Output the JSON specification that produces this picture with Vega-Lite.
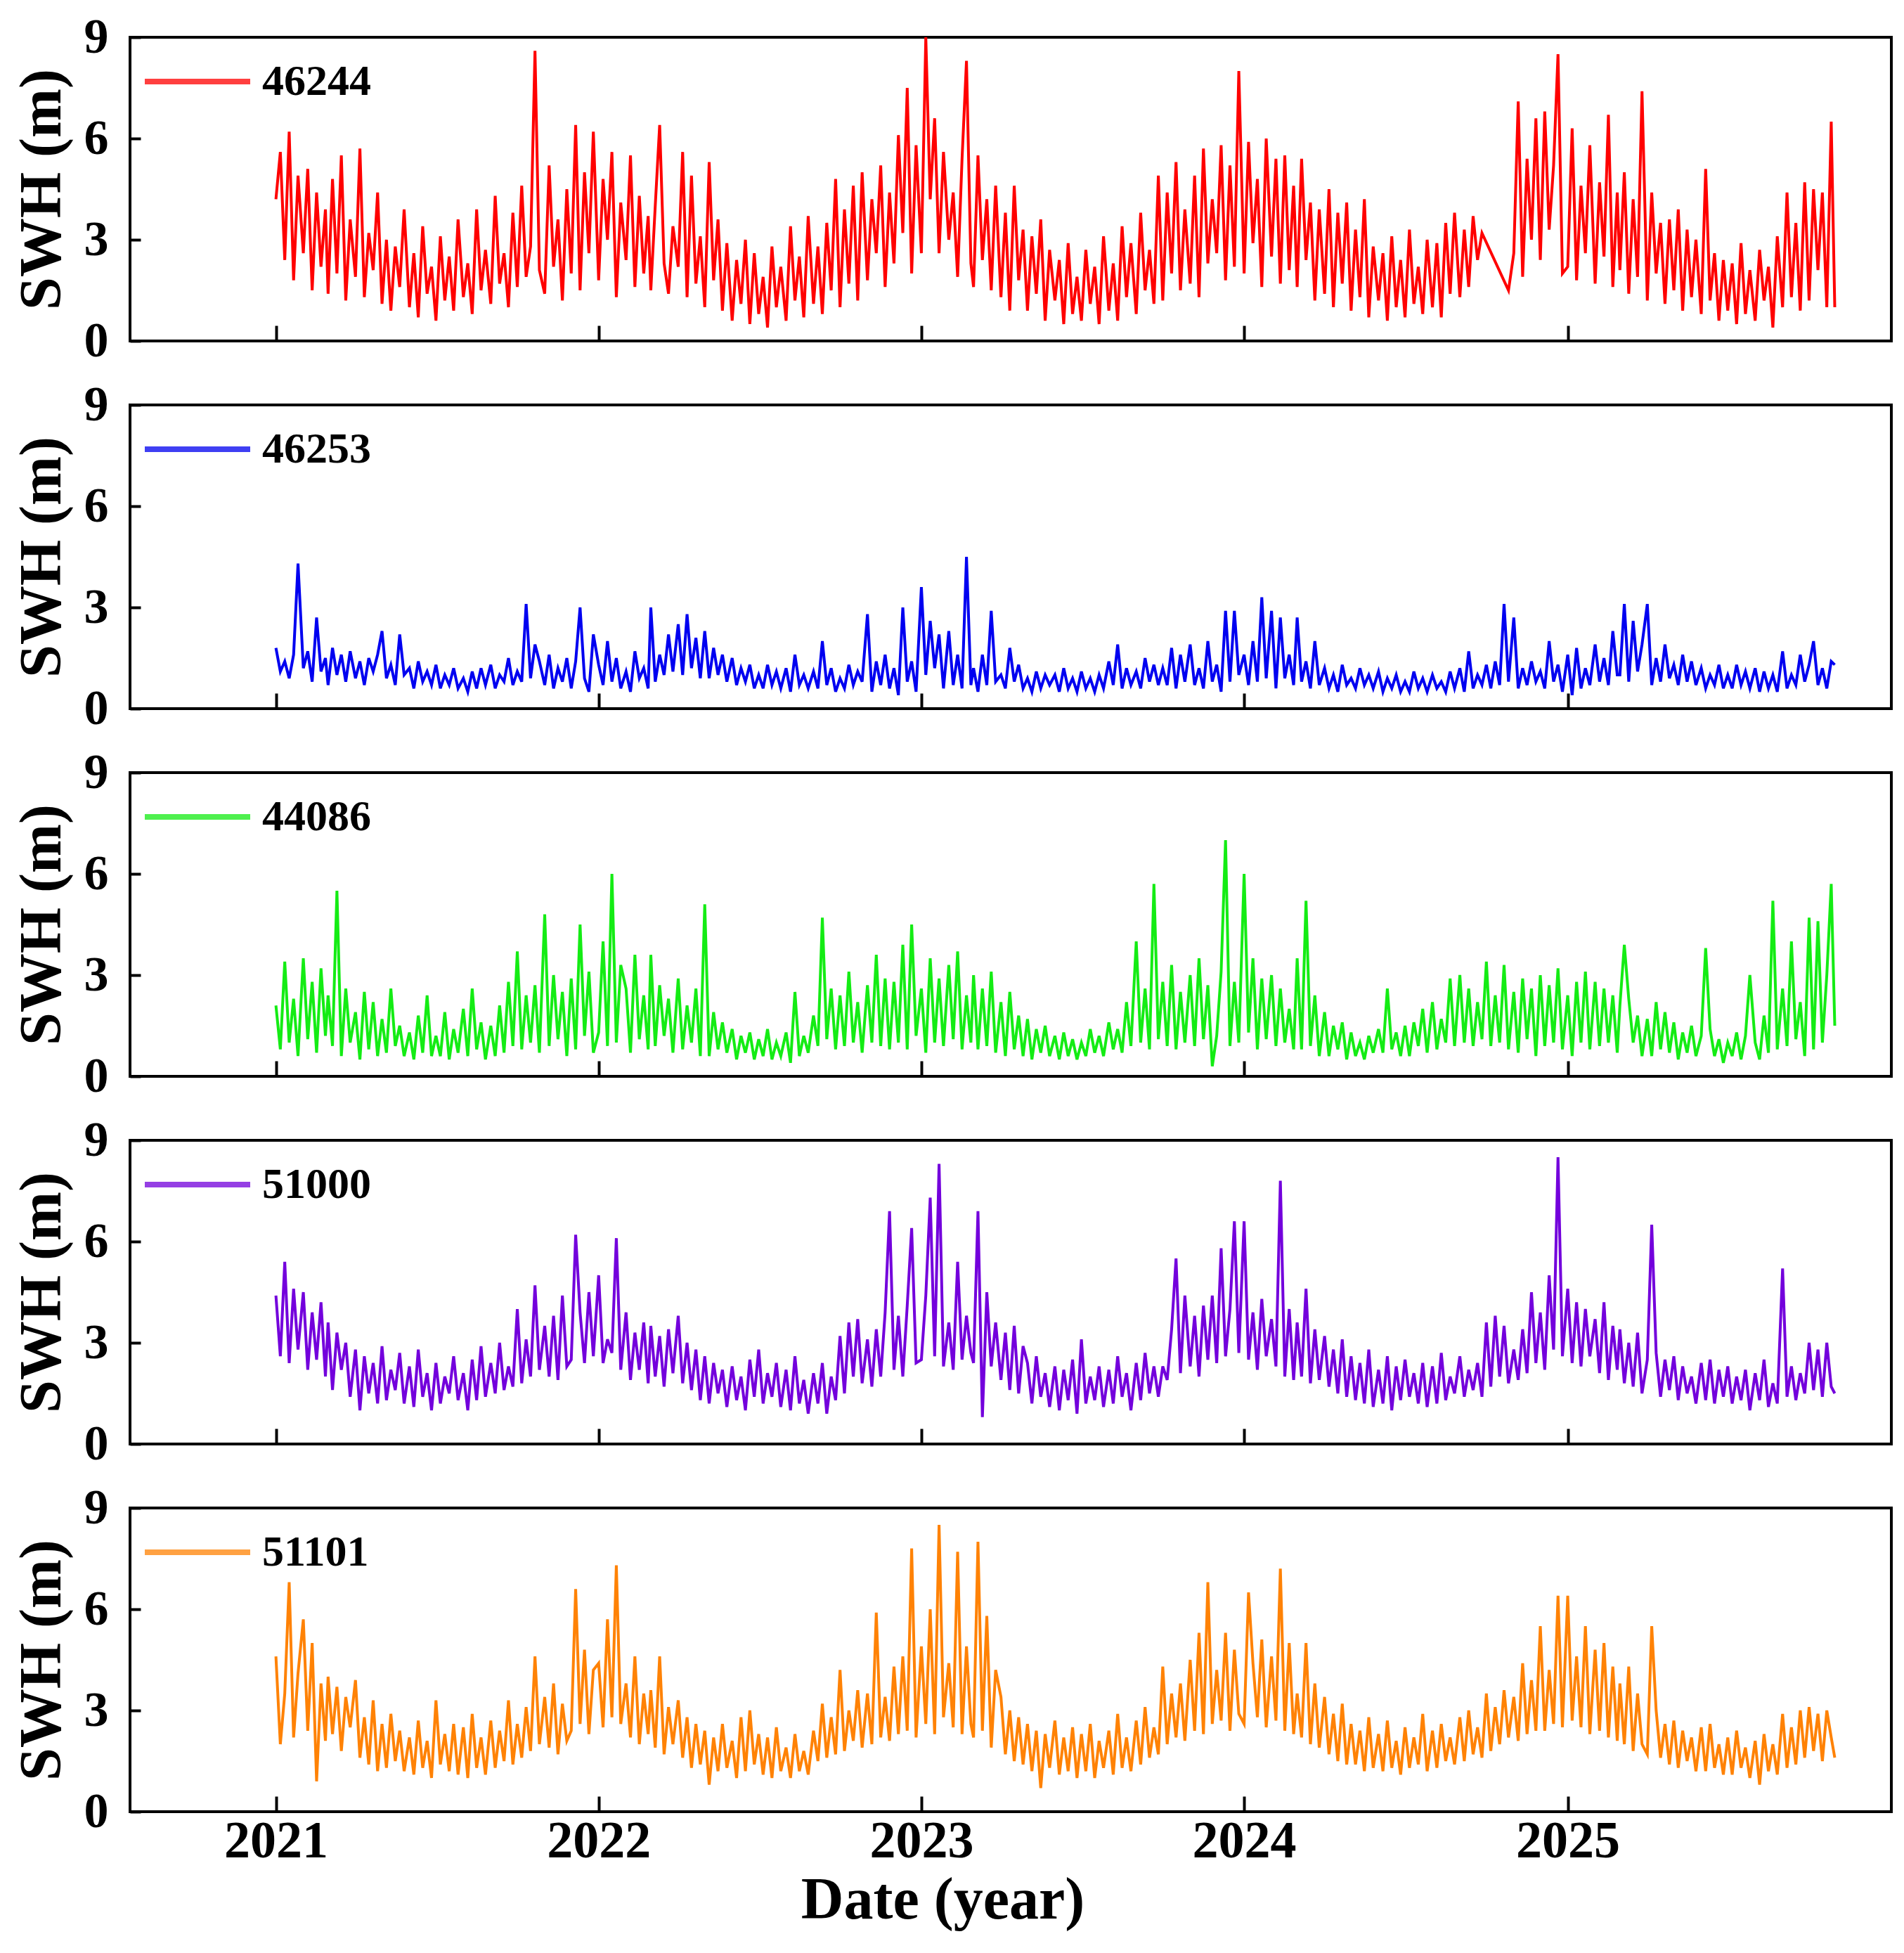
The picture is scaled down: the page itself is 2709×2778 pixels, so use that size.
{
"$schema":"https://vega.github.io/schema/vega-lite/v6.json",
"background":"white",
"padding":{"left":16,"top":16,"right":20,"bottom":4},
"config":{
 "font":"Liberation Serif",
 "view":{"stroke":"black","strokeWidth":4},
 "axis":{"grid":false,"domain":false,"tickColor":"black","tickWidth":4,"labelFont":"Liberation Serif","labelFontWeight":"bold","labelColor":"black","titleFont":"Liberation Serif","titleFontWeight":"bold","titleColor":"black","labelFlush":false},
 "axisX":{"tickSize":-22,"labelPadding":28,"labelFontSize":74,"titleFontSize":84,"titlePadding":6,"format":"%Y"},
 "axisY":{"tickSize":-15,"labelPadding":46,"labelFontSize":70,"titleFontSize":84,"titlePadding":16},
 "legend":{"symbolType":"M-1,-0.04H1M-1,-0.013H1M-1,0.013H1M-1,0.04H1","symbolSize":22500,"labelFont":"Liberation Serif","labelFontWeight":"bold","labelFontSize":62,"labelColor":"black","labelOffset":16,"padding":0}
},
"spacing":91,
"bounds":"flush",
"resolve":{"scale":{"color":"independent"}},
"data":{"values":[
{"t":"2021-01-01","a":4.2,"b":1.8,"c":2.1,"d":4.4,"e":4.6},
{"t":"2021-01-06","a":5.6,"b":1.1,"c":0.8,"d":2.6,"e":2.0},
{"t":"2021-01-11","a":2.4,"b":1.4,"c":3.4,"d":5.4,"e":3.5},
{"t":"2021-01-16","a":6.2,"b":0.9,"c":1.0,"d":2.4,"e":6.8},
{"t":"2021-01-21","a":1.8,"b":1.6,"c":2.3,"d":4.6,"e":2.2},
{"t":"2021-01-26","a":4.9,"b":4.3,"c":0.6,"d":2.8,"e":4.1},
{"t":"2021-02-01","a":2.6,"b":1.2,"c":3.5,"d":4.5,"e":5.7},
{"t":"2021-02-06","a":5.1,"b":1.7,"c":1.1,"d":2.2,"e":2.4},
{"t":"2021-02-11","a":1.5,"b":0.8,"c":2.8,"d":3.9,"e":5.0},
{"t":"2021-02-16","a":4.4,"b":2.7,"c":0.7,"d":2.5,"e":0.9},
{"t":"2021-02-21","a":2.2,"b":1.1,"c":3.2,"d":4.2,"e":3.8},
{"t":"2021-02-26","a":3.9,"b":1.5,"c":1.2,"d":2.0,"e":2.1},
{"t":"2021-03-01","a":1.4,"b":0.7,"c":2.4,"d":3.6,"e":4.0},
{"t":"2021-03-06","a":4.8,"b":1.8,"c":0.9,"d":1.6,"e":2.3},
{"t":"2021-03-11","a":2.0,"b":1.0,"c":5.5,"d":3.3,"e":3.7},
{"t":"2021-03-16","a":5.5,"b":1.6,"c":0.6,"d":2.2,"e":1.8},
{"t":"2021-03-21","a":1.2,"b":0.8,"c":2.6,"d":3.0,"e":3.4},
{"t":"2021-03-26","a":3.6,"b":1.7,"c":1.0,"d":1.4,"e":2.5},
{"t":"2021-04-01","a":1.9,"b":0.9,"c":1.9,"d":2.8,"e":3.9},
{"t":"2021-04-06","a":5.7,"b":1.4,"c":0.5,"d":1.0,"e":1.6},
{"t":"2021-04-11","a":1.3,"b":0.7,"c":2.5,"d":2.6,"e":2.8},
{"t":"2021-04-16","a":3.2,"b":1.5,"c":0.8,"d":1.5,"e":1.4},
{"t":"2021-04-21","a":2.1,"b":1.1,"c":2.2,"d":2.4,"e":3.3},
{"t":"2021-04-26","a":4.4,"b":1.6,"c":0.6,"d":1.2,"e":1.2},
{"t":"2021-05-01","a":1.1,"b":2.3,"c":1.7,"d":2.9,"e":2.6},
{"t":"2021-05-06","a":3.0,"b":0.9,"c":0.7,"d":1.3,"e":1.3},
{"t":"2021-05-11","a":0.9,"b":1.3,"c":2.6,"d":2.2,"e":2.9},
{"t":"2021-05-16","a":2.8,"b":0.7,"c":0.9,"d":1.6,"e":1.5},
{"t":"2021-05-21","a":1.6,"b":2.2,"c":1.5,"d":2.7,"e":2.4},
{"t":"2021-05-26","a":3.9,"b":1.0,"c":0.6,"d":1.2,"e":1.2},
{"t":"2021-06-01","a":1.0,"b":1.2,"c":1.3,"d":2.3,"e":2.2},
{"t":"2021-06-06","a":2.6,"b":0.6,"c":0.5,"d":1.1,"e":1.1},
{"t":"2021-06-11","a":0.7,"b":1.4,"c":1.8,"d":2.8,"e":2.7},
{"t":"2021-06-16","a":3.4,"b":0.8,"c":0.7,"d":1.4,"e":1.3},
{"t":"2021-06-21","a":1.4,"b":1.1,"c":2.4,"d":2.1,"e":2.1},
{"t":"2021-06-26","a":2.2,"b":0.7,"c":0.6,"d":1.0,"e":1.0},
{"t":"2021-07-01","a":0.6,"b":1.3,"c":1.2,"d":2.4,"e":3.3},
{"t":"2021-07-06","a":3.1,"b":0.6,"c":0.6,"d":1.2,"e":1.4},
{"t":"2021-07-11","a":1.2,"b":1.0,"c":1.9,"d":2.0,"e":2.3},
{"t":"2021-07-16","a":2.5,"b":0.7,"c":0.5,"d":1.5,"e":1.2},
{"t":"2021-07-21","a":0.9,"b":1.2,"c":1.4,"d":2.6,"e":2.6},
{"t":"2021-07-26","a":3.6,"b":0.6,"c":0.7,"d":1.3,"e":1.1},
{"t":"2021-08-01","a":1.3,"b":0.9,"c":2.0,"d":2.1,"e":2.5},
{"t":"2021-08-06","a":2.3,"b":0.5,"c":0.6,"d":1.0,"e":1.0},
{"t":"2021-08-11","a":0.8,"b":1.1,"c":2.6,"d":2.5,"e":2.9},
{"t":"2021-08-16","a":3.9,"b":0.6,"c":0.8,"d":1.3,"e":1.3},
{"t":"2021-08-21","a":1.5,"b":1.2,"c":1.6,"d":2.9,"e":2.2},
{"t":"2021-08-26","a":2.7,"b":0.7,"c":0.5,"d":1.4,"e":1.1},
{"t":"2021-09-01","a":1.1,"b":1.3,"c":1.5,"d":2.4,"e":2.7},
{"t":"2021-09-06","a":4.3,"b":0.6,"c":0.6,"d":1.5,"e":1.3},
{"t":"2021-09-11","a":1.7,"b":1.0,"c":2.1,"d":3.0,"e":2.4},
{"t":"2021-09-16","a":2.6,"b":0.8,"c":0.7,"d":1.6,"e":1.5},
{"t":"2021-09-21","a":1.0,"b":1.5,"c":2.8,"d":2.3,"e":3.3},
{"t":"2021-09-26","a":3.8,"b":0.7,"c":0.9,"d":1.7,"e":1.4},
{"t":"2021-10-01","a":1.6,"b":1.1,"c":3.7,"d":4.0,"e":2.6},
{"t":"2021-10-06","a":4.6,"b":0.8,"c":0.8,"d":1.8,"e":1.6},
{"t":"2021-10-11","a":1.9,"b":3.1,"c":2.4,"d":3.1,"e":3.1},
{"t":"2021-10-16","a":2.8,"b":0.9,"c":1.0,"d":2.0,"e":1.8},
{"t":"2021-10-21","a":8.6,"b":1.9,"c":2.7,"d":4.7,"e":4.6},
{"t":"2021-10-26","a":2.1,"b":1.4,"c":0.7,"d":2.2,"e":2.0},
{"t":"2021-11-01","a":1.4,"b":0.7,"c":4.8,"d":3.5,"e":3.4},
{"t":"2021-11-06","a":5.2,"b":1.6,"c":0.9,"d":2.0,"e":1.9},
{"t":"2021-11-11","a":2.2,"b":0.6,"c":3.0,"d":3.8,"e":3.8},
{"t":"2021-11-16","a":3.6,"b":1.2,"c":1.1,"d":1.9,"e":1.7},
{"t":"2021-11-21","a":1.2,"b":0.8,"c":2.5,"d":4.4,"e":3.2},
{"t":"2021-11-26","a":4.5,"b":1.5,"c":0.6,"d":2.3,"e":2.1},
{"t":"2021-12-01","a":2.0,"b":0.6,"c":2.9,"d":2.5,"e":2.4},
{"t":"2021-12-06","a":6.4,"b":1.4,"c":0.8,"d":6.2,"e":6.6},
{"t":"2021-12-11","a":1.5,"b":3.0,"c":4.5,"d":3.9,"e":2.6},
{"t":"2021-12-16","a":5.0,"b":0.9,"c":1.2,"d":2.4,"e":4.8},
{"t":"2021-12-21","a":2.6,"b":0.5,"c":3.1,"d":4.5,"e":2.3},
{"t":"2021-12-26","a":6.2,"b":2.2,"c":0.7,"d":2.6,"e":4.2},
{"t":"2022-01-01","a":1.8,"b":1.3,"c":1.3,"d":5.0,"e":4.4},
{"t":"2022-01-06","a":4.8,"b":0.7,"c":4.0,"d":2.4,"e":2.5},
{"t":"2022-01-11","a":3.0,"b":2.0,"c":0.9,"d":3.1,"e":5.7},
{"t":"2022-01-16","a":5.6,"b":0.8,"c":6.0,"d":2.7,"e":2.8},
{"t":"2022-01-21","a":1.3,"b":1.5,"c":1.0,"d":6.1,"e":7.3},
{"t":"2022-01-26","a":4.1,"b":0.6,"c":3.3,"d":2.2,"e":2.6},
{"t":"2022-02-01","a":2.4,"b":1.1,"c":2.6,"d":3.9,"e":3.8},
{"t":"2022-02-06","a":5.5,"b":0.5,"c":0.7,"d":1.9,"e":2.2},
{"t":"2022-02-11","a":1.6,"b":1.7,"c":3.6,"d":3.3,"e":4.6},
{"t":"2022-02-16","a":4.3,"b":0.9,"c":1.1,"d":2.2,"e":2.0},
{"t":"2022-02-21","a":2.0,"b":1.2,"c":2.4,"d":3.6,"e":3.5},
{"t":"2022-02-26","a":3.7,"b":0.6,"c":0.8,"d":1.8,"e":2.3},
{"t":"2022-03-01","a":1.5,"b":3.0,"c":3.6,"d":3.5,"e":3.6},
{"t":"2022-03-06","a":4.0,"b":0.8,"c":0.9,"d":2.0,"e":1.9},
{"t":"2022-03-11","a":6.4,"b":1.6,"c":2.7,"d":3.2,"e":4.6},
{"t":"2022-03-16","a":2.3,"b":1.0,"c":1.2,"d":1.7,"e":1.7},
{"t":"2022-03-21","a":1.4,"b":2.2,"c":2.3,"d":3.4,"e":3.1},
{"t":"2022-03-26","a":3.4,"b":1.1,"c":0.7,"d":2.1,"e":2.0},
{"t":"2022-04-01","a":2.2,"b":2.5,"c":2.9,"d":3.8,"e":3.3},
{"t":"2022-04-06","a":5.6,"b":1.0,"c":0.8,"d":1.8,"e":1.6},
{"t":"2022-04-11","a":1.3,"b":2.8,"c":2.1,"d":3.0,"e":2.8},
{"t":"2022-04-16","a":4.9,"b":1.2,"c":1.0,"d":1.6,"e":1.3},
{"t":"2022-04-21","a":1.7,"b":2.1,"c":2.6,"d":2.8,"e":2.6},
{"t":"2022-04-26","a":3.1,"b":0.9,"c":0.6,"d":1.3,"e":1.4},
{"t":"2022-05-01","a":1.0,"b":2.3,"c":5.1,"d":2.6,"e":2.4},
{"t":"2022-05-06","a":5.3,"b":0.9,"c":0.6,"d":1.2,"e":0.8},
{"t":"2022-05-11","a":1.8,"b":1.8,"c":1.9,"d":2.4,"e":2.2},
{"t":"2022-05-16","a":3.6,"b":1.0,"c":0.8,"d":1.5,"e":1.2},
{"t":"2022-05-21","a":0.9,"b":1.6,"c":1.6,"d":2.2,"e":2.6},
{"t":"2022-05-26","a":2.9,"b":0.8,"c":0.7,"d":1.1,"e":1.3},
{"t":"2022-06-01","a":0.6,"b":1.5,"c":1.4,"d":2.3,"e":2.1},
{"t":"2022-06-06","a":2.4,"b":0.7,"c":0.5,"d":1.3,"e":1.0},
{"t":"2022-06-11","a":1.1,"b":1.2,"c":1.2,"d":2.0,"e":2.8},
{"t":"2022-06-16","a":3.0,"b":0.8,"c":0.7,"d":1.0,"e":1.2},
{"t":"2022-06-21","a":0.5,"b":1.3,"c":1.3,"d":2.5,"e":3.0},
{"t":"2022-06-26","a":2.6,"b":0.6,"c":0.5,"d":1.4,"e":1.4},
{"t":"2022-07-01","a":0.8,"b":1.0,"c":1.1,"d":2.8,"e":2.3},
{"t":"2022-07-06","a":1.9,"b":0.6,"c":0.6,"d":1.2,"e":1.1},
{"t":"2022-07-11","a":0.4,"b":1.3,"c":1.4,"d":2.1,"e":2.2},
{"t":"2022-07-16","a":2.8,"b":0.7,"c":0.5,"d":1.4,"e":1.0},
{"t":"2022-07-21","a":1.0,"b":1.1,"c":1.0,"d":2.4,"e":2.5},
{"t":"2022-07-26","a":2.2,"b":0.6,"c":0.6,"d":1.1,"e":1.2},
{"t":"2022-08-01","a":0.6,"b":1.2,"c":1.3,"d":2.2,"e":1.9},
{"t":"2022-08-06","a":3.4,"b":0.5,"c":0.4,"d":1.0,"e":1.0},
{"t":"2022-08-11","a":1.2,"b":1.6,"c":2.5,"d":2.6,"e":2.3},
{"t":"2022-08-16","a":2.5,"b":0.7,"c":0.6,"d":1.2,"e":1.2},
{"t":"2022-08-21","a":0.7,"b":1.0,"c":1.2,"d":1.9,"e":1.8},
{"t":"2022-08-26","a":3.7,"b":0.6,"c":0.7,"d":0.9,"e":1.1},
{"t":"2022-09-01","a":1.1,"b":1.1,"c":1.8,"d":2.1,"e":2.4},
{"t":"2022-09-06","a":2.8,"b":0.6,"c":0.9,"d":1.2,"e":1.5},
{"t":"2022-09-11","a":0.8,"b":2.0,"c":4.7,"d":2.4,"e":3.2},
{"t":"2022-09-16","a":3.5,"b":0.7,"c":1.1,"d":0.9,"e":1.6},
{"t":"2022-09-21","a":1.5,"b":1.2,"c":2.6,"d":2.0,"e":2.8},
{"t":"2022-09-26","a":4.8,"b":0.5,"c":0.8,"d":1.3,"e":1.7},
{"t":"2022-10-01","a":1.0,"b":0.9,"c":2.4,"d":3.2,"e":4.2},
{"t":"2022-10-06","a":3.9,"b":0.6,"c":0.9,"d":1.5,"e":1.8},
{"t":"2022-10-11","a":1.7,"b":1.3,"c":3.1,"d":3.6,"e":3.0},
{"t":"2022-10-16","a":4.6,"b":0.7,"c":1.0,"d":2.0,"e":2.1},
{"t":"2022-10-21","a":1.2,"b":1.1,"c":2.2,"d":3.7,"e":3.6},
{"t":"2022-10-26","a":5.0,"b":0.8,"c":0.7,"d":1.8,"e":1.9},
{"t":"2022-11-01","a":1.8,"b":2.8,"c":2.7,"d":3.1,"e":3.5},
{"t":"2022-11-06","a":4.2,"b":0.5,"c":1.0,"d":1.7,"e":2.0},
{"t":"2022-11-11","a":2.6,"b":1.4,"c":3.6,"d":3.4,"e":5.9},
{"t":"2022-11-16","a":5.2,"b":0.7,"c":0.9,"d":2.0,"e":2.2},
{"t":"2022-11-21","a":1.6,"b":1.6,"c":2.9,"d":3.9,"e":3.4},
{"t":"2022-11-26","a":4.4,"b":0.6,"c":0.8,"d":6.9,"e":2.1},
{"t":"2022-12-01","a":2.3,"b":1.2,"c":2.8,"d":2.2,"e":4.3},
{"t":"2022-12-06","a":6.1,"b":0.4,"c":1.0,"d":3.8,"e":2.3},
{"t":"2022-12-11","a":3.2,"b":3.0,"c":3.9,"d":2.0,"e":4.6},
{"t":"2022-12-16","a":7.5,"b":0.8,"c":0.8,"d":4.1,"e":2.4},
{"t":"2022-12-21","a":2.0,"b":1.4,"c":4.5,"d":6.4,"e":7.8},
{"t":"2022-12-26","a":5.8,"b":0.5,"c":1.2,"d":2.4,"e":2.2},
{"t":"2023-01-01","a":2.6,"b":3.6,"c":2.6,"d":2.5,"e":4.9},
{"t":"2023-01-06","a":9.0,"b":1.0,"c":0.7,"d":4.4,"e":2.6},
{"t":"2023-01-11","a":4.2,"b":2.6,"c":3.5,"d":7.3,"e":6.0},
{"t":"2023-01-16","a":6.6,"b":1.2,"c":1.0,"d":2.6,"e":2.3},
{"t":"2023-01-21","a":2.6,"b":2.2,"c":2.9,"d":8.3,"e":8.5},
{"t":"2023-01-26","a":5.6,"b":0.6,"c":0.9,"d":2.3,"e":2.8},
{"t":"2023-02-01","a":3.0,"b":2.3,"c":3.3,"d":3.6,"e":4.4},
{"t":"2023-02-06","a":4.4,"b":0.7,"c":1.1,"d":2.2,"e":2.5},
{"t":"2023-02-11","a":1.9,"b":1.6,"c":3.7,"d":5.4,"e":7.7},
{"t":"2023-02-16","a":5.4,"b":0.6,"c":0.8,"d":2.5,"e":2.3},
{"t":"2023-02-21","a":8.3,"b":4.5,"c":2.4,"d":3.8,"e":4.9},
{"t":"2023-02-26","a":2.3,"b":0.7,"c":1.0,"d":2.7,"e":2.6},
{"t":"2023-03-01","a":1.6,"b":1.2,"c":3.0,"d":2.4,"e":2.2},
{"t":"2023-03-06","a":5.5,"b":0.5,"c":0.8,"d":6.9,"e":8.0},
{"t":"2023-03-11","a":2.4,"b":1.6,"c":2.6,"d":0.8,"e":2.4},
{"t":"2023-03-16","a":4.2,"b":0.7,"c":0.9,"d":4.5,"e":5.8},
{"t":"2023-03-21","a":1.5,"b":2.9,"c":3.1,"d":2.3,"e":1.9},
{"t":"2023-03-26","a":4.6,"b":0.8,"c":0.7,"d":3.6,"e":4.2},
{"t":"2023-04-01","a":1.3,"b":1.0,"c":2.2,"d":1.9,"e":3.4},
{"t":"2023-04-06","a":3.8,"b":0.6,"c":0.6,"d":3.3,"e":1.7},
{"t":"2023-04-11","a":0.9,"b":1.8,"c":2.5,"d":1.6,"e":3.0},
{"t":"2023-04-16","a":4.6,"b":0.8,"c":0.8,"d":3.5,"e":1.5},
{"t":"2023-04-21","a":1.8,"b":1.3,"c":1.8,"d":1.5,"e":2.8},
{"t":"2023-04-26","a":3.3,"b":0.6,"c":0.6,"d":2.9,"e":1.4},
{"t":"2023-05-01","a":0.9,"b":0.9,"c":1.7,"d":2.4,"e":2.6},
{"t":"2023-05-06","a":3.1,"b":0.5,"c":0.5,"d":1.2,"e":1.2},
{"t":"2023-05-11","a":1.4,"b":1.1,"c":1.4,"d":2.6,"e":2.4},
{"t":"2023-05-16","a":3.6,"b":0.6,"c":0.7,"d":1.4,"e":0.7},
{"t":"2023-05-21","a":0.6,"b":1.0,"c":1.5,"d":2.1,"e":2.3},
{"t":"2023-05-26","a":2.7,"b":0.7,"c":0.6,"d":1.1,"e":1.3},
{"t":"2023-06-01","a":1.2,"b":1.0,"c":1.2,"d":2.3,"e":2.7},
{"t":"2023-06-06","a":2.4,"b":0.5,"c":0.5,"d":1.0,"e":1.1},
{"t":"2023-06-11","a":0.5,"b":1.2,"c":1.3,"d":2.2,"e":2.2},
{"t":"2023-06-16","a":2.9,"b":0.6,"c":0.6,"d":1.3,"e":1.2},
{"t":"2023-06-21","a":0.8,"b":0.9,"c":1.1,"d":2.5,"e":2.5},
{"t":"2023-06-26","a":1.9,"b":0.5,"c":0.5,"d":0.9,"e":1.0},
{"t":"2023-07-01","a":0.6,"b":1.1,"c":1.0,"d":3.1,"e":2.3},
{"t":"2023-07-06","a":2.7,"b":0.6,"c":0.6,"d":1.2,"e":1.2},
{"t":"2023-07-11","a":1.1,"b":0.9,"c":1.4,"d":2.0,"e":2.6},
{"t":"2023-07-16","a":2.2,"b":0.5,"c":0.7,"d":1.3,"e":1.0},
{"t":"2023-07-21","a":0.5,"b":1.0,"c":1.2,"d":2.3,"e":2.1},
{"t":"2023-07-26","a":3.1,"b":0.6,"c":0.6,"d":1.1,"e":1.3},
{"t":"2023-08-01","a":0.9,"b":1.4,"c":1.6,"d":2.2,"e":2.4},
{"t":"2023-08-06","a":2.3,"b":0.7,"c":0.8,"d":1.2,"e":1.1},
{"t":"2023-08-11","a":0.6,"b":1.9,"c":1.4,"d":2.6,"e":2.9},
{"t":"2023-08-16","a":3.4,"b":0.6,"c":0.7,"d":1.4,"e":1.3},
{"t":"2023-08-21","a":1.3,"b":1.2,"c":2.2,"d":2.1,"e":2.2},
{"t":"2023-08-26","a":2.9,"b":0.7,"c":0.9,"d":1.0,"e":1.2},
{"t":"2023-09-01","a":0.8,"b":1.1,"c":4.0,"d":2.4,"e":2.7},
{"t":"2023-09-06","a":3.8,"b":0.6,"c":1.0,"d":1.3,"e":1.4},
{"t":"2023-09-11","a":1.5,"b":1.5,"c":2.6,"d":2.7,"e":3.1},
{"t":"2023-09-16","a":2.7,"b":0.8,"c":0.8,"d":1.5,"e":1.6},
{"t":"2023-09-21","a":1.1,"b":1.3,"c":5.7,"d":2.3,"e":2.5},
{"t":"2023-09-26","a":4.9,"b":0.7,"c":1.1,"d":1.4,"e":1.7},
{"t":"2023-10-01","a":1.2,"b":1.2,"c":2.8,"d":2.3,"e":4.3},
{"t":"2023-10-06","a":4.4,"b":0.7,"c":0.9,"d":1.9,"e":2.0},
{"t":"2023-10-11","a":2.0,"b":1.8,"c":3.3,"d":3.4,"e":3.5},
{"t":"2023-10-16","a":5.3,"b":0.6,"c":0.8,"d":5.5,"e":2.2},
{"t":"2023-10-21","a":1.5,"b":1.6,"c":2.5,"d":2.1,"e":3.8},
{"t":"2023-10-26","a":3.9,"b":0.8,"c":1.0,"d":4.4,"e":2.1},
{"t":"2023-11-01","a":1.7,"b":1.9,"c":3.0,"d":2.3,"e":4.5},
{"t":"2023-11-06","a":4.9,"b":0.7,"c":0.9,"d":3.8,"e":2.4},
{"t":"2023-11-11","a":1.3,"b":1.2,"c":3.5,"d":2.0,"e":5.3},
{"t":"2023-11-16","a":5.7,"b":0.6,"c":1.1,"d":4.1,"e":2.3},
{"t":"2023-11-21","a":2.3,"b":2.0,"c":2.7,"d":2.5,"e":6.8},
{"t":"2023-11-26","a":4.2,"b":0.8,"c":0.3,"d":4.4,"e":2.6},
{"t":"2023-12-01","a":2.6,"b":1.3,"c":1.2,"d":2.4,"e":4.2},
{"t":"2023-12-06","a":5.8,"b":0.5,"c":3.1,"d":5.8,"e":2.7},
{"t":"2023-12-11","a":1.8,"b":2.9,"c":7.0,"d":2.6,"e":5.3},
{"t":"2023-12-16","a":5.2,"b":0.8,"c":0.9,"d":4.0,"e":2.4},
{"t":"2023-12-21","a":2.2,"b":2.9,"c":2.8,"d":6.6,"e":4.8},
{"t":"2023-12-26","a":8.0,"b":1.0,"c":1.0,"d":2.7,"e":2.9},
{"t":"2024-01-01","a":2.0,"b":1.6,"c":6.0,"d":6.6,"e":2.6},
{"t":"2024-01-06","a":5.9,"b":0.7,"c":1.3,"d":2.5,"e":6.5},
{"t":"2024-01-11","a":2.9,"b":2.0,"c":3.5,"d":3.9,"e":4.4},
{"t":"2024-01-16","a":4.8,"b":0.8,"c":0.8,"d":2.2,"e":2.8},
{"t":"2024-01-21","a":1.6,"b":3.3,"c":2.9,"d":4.3,"e":5.1},
{"t":"2024-01-26","a":6.0,"b":0.9,"c":1.1,"d":2.6,"e":2.5},
{"t":"2024-02-01","a":2.5,"b":2.9,"c":3.0,"d":3.7,"e":4.6},
{"t":"2024-02-06","a":5.4,"b":0.6,"c":0.9,"d":2.3,"e":2.7},
{"t":"2024-02-11","a":1.7,"b":2.7,"c":2.6,"d":7.8,"e":7.2},
{"t":"2024-02-16","a":5.5,"b":0.9,"c":1.0,"d":2.0,"e":2.4},
{"t":"2024-02-21","a":2.1,"b":1.6,"c":2.0,"d":4.0,"e":5.0},
{"t":"2024-02-26","a":4.6,"b":0.7,"c":0.8,"d":1.9,"e":2.3},
{"t":"2024-03-01","a":1.6,"b":2.7,"c":3.5,"d":3.6,"e":3.5},
{"t":"2024-03-06","a":5.4,"b":0.8,"c":0.8,"d":2.0,"e":2.2},
{"t":"2024-03-11","a":2.4,"b":1.4,"c":5.2,"d":4.6,"e":5.0},
{"t":"2024-03-16","a":4.1,"b":0.6,"c":0.9,"d":1.8,"e":2.0},
{"t":"2024-03-21","a":1.2,"b":2.0,"c":2.4,"d":3.4,"e":3.8},
{"t":"2024-03-26","a":3.9,"b":0.7,"c":0.6,"d":1.9,"e":1.9},
{"t":"2024-04-01","a":1.4,"b":1.2,"c":1.9,"d":3.2,"e":3.4},
{"t":"2024-04-06","a":4.5,"b":0.6,"c":0.6,"d":1.7,"e":1.7},
{"t":"2024-04-11","a":1.0,"b":1.0,"c":1.5,"d":2.8,"e":2.9},
{"t":"2024-04-16","a":3.8,"b":0.5,"c":0.8,"d":1.5,"e":1.5},
{"t":"2024-04-21","a":1.7,"b":1.3,"c":1.6,"d":3.1,"e":3.2},
{"t":"2024-04-26","a":4.1,"b":0.7,"c":0.5,"d":1.4,"e":1.4},
{"t":"2024-05-01","a":0.9,"b":0.9,"c":1.3,"d":2.6,"e":2.6},
{"t":"2024-05-06","a":3.3,"b":0.6,"c":0.6,"d":1.3,"e":1.4},
{"t":"2024-05-11","a":1.3,"b":1.2,"c":1.0,"d":2.4,"e":2.4},
{"t":"2024-05-16","a":4.2,"b":0.7,"c":0.5,"d":1.2,"e":1.2},
{"t":"2024-05-21","a":0.7,"b":1.0,"c":1.2,"d":2.8,"e":2.8},
{"t":"2024-05-26","a":2.8,"b":0.6,"c":0.7,"d":1.1,"e":1.3},
{"t":"2024-06-01","a":1.2,"b":1.1,"c":1.4,"d":2.2,"e":2.3},
{"t":"2024-06-06","a":2.6,"b":0.5,"c":0.7,"d":1.2,"e":1.2},
{"t":"2024-06-11","a":0.6,"b":0.9,"c":2.6,"d":2.6,"e":2.7},
{"t":"2024-06-16","a":3.1,"b":0.6,"c":0.8,"d":1.0,"e":1.3},
{"t":"2024-06-21","a":1.0,"b":1.0,"c":1.3,"d":2.3,"e":2.1},
{"t":"2024-06-26","a":2.4,"b":0.5,"c":0.6,"d":1.3,"e":1.1},
{"t":"2024-07-01","a":0.7,"b":0.8,"c":1.5,"d":2.5,"e":2.5},
{"t":"2024-07-06","a":3.3,"b":0.5,"c":0.6,"d":1.4,"e":1.3},
{"t":"2024-07-11","a":1.1,"b":1.1,"c":1.6,"d":2.1,"e":2.2},
{"t":"2024-07-16","a":2.2,"b":0.6,"c":0.9,"d":1.2,"e":1.4},
{"t":"2024-07-21","a":0.8,"b":0.9,"c":2.0,"d":2.4,"e":2.9},
{"t":"2024-07-26","a":3.0,"b":0.5,"c":0.7,"d":1.1,"e":1.2},
{"t":"2024-08-01","a":1.0,"b":1.0,"c":2.2,"d":2.3,"e":2.4},
{"t":"2024-08-06","a":2.9,"b":0.6,"c":0.8,"d":1.2,"e":1.3},
{"t":"2024-08-11","a":0.7,"b":0.8,"c":1.7,"d":2.7,"e":2.6},
{"t":"2024-08-16","a":3.5,"b":0.5,"c":1.0,"d":1.3,"e":1.5},
{"t":"2024-08-21","a":1.4,"b":1.1,"c":2.9,"d":2.0,"e":2.2},
{"t":"2024-08-26","a":3.8,"b":0.6,"c":0.9,"d":1.5,"e":1.4},
{"t":"2024-09-01","a":1.3,"b":1.2,"c":3.0,"d":2.6,"e":2.8},
{"t":"2024-09-06","a":3.3,"b":0.5,"c":1.0,"d":1.4,"e":1.5},
{"t":"2024-09-11","a":1.6,"b":1.7,"c":2.6,"d":2.2,"e":3.0},
{"t":"2024-09-16","a":3.7,"b":0.6,"c":0.9,"d":1.6,"e":1.7},
{"t":"2024-09-21","a":2.4,"b":1.0,"c":2.2,"d":2.4,"e":2.5},
{"t":"2024-09-26","a":3.2,"b":0.7,"c":1.1,"d":1.4,"e":1.6},
{"t":"2024-10-01","a":null,"b":1.3,"c":3.4,"d":3.6,"e":3.5},
{"t":"2024-10-06","a":null,"b":0.6,"c":0.9,"d":1.7,"e":1.8},
{"t":"2024-10-11","a":null,"b":1.4,"c":2.4,"d":3.8,"e":3.1},
{"t":"2024-10-16","a":null,"b":0.7,"c":1.0,"d":2.0,"e":2.0},
{"t":"2024-10-21","a":null,"b":3.1,"c":3.3,"d":3.5,"e":3.6},
{"t":"2024-10-26","a":1.5,"b":0.8,"c":0.8,"d":1.8,"e":2.2},
{"t":"2024-11-01","a":2.6,"b":2.7,"c":2.5,"d":2.8,"e":3.4},
{"t":"2024-11-06","a":7.1,"b":0.6,"c":0.7,"d":1.9,"e":2.1},
{"t":"2024-11-11","a":1.9,"b":1.2,"c":2.9,"d":3.4,"e":4.4},
{"t":"2024-11-16","a":5.4,"b":0.7,"c":1.1,"d":2.1,"e":2.3},
{"t":"2024-11-21","a":3.0,"b":1.4,"c":2.6,"d":4.5,"e":3.9},
{"t":"2024-11-26","a":6.6,"b":0.8,"c":0.6,"d":2.4,"e":2.4},
{"t":"2024-12-01","a":2.4,"b":1.1,"c":3.0,"d":3.9,"e":5.5},
{"t":"2024-12-06","a":6.8,"b":0.6,"c":0.9,"d":2.2,"e":2.4},
{"t":"2024-12-11","a":3.3,"b":2.0,"c":2.7,"d":5.0,"e":4.2},
{"t":"2024-12-16","a":5.2,"b":0.8,"c":1.0,"d":2.8,"e":2.6},
{"t":"2024-12-21","a":8.5,"b":1.3,"c":3.2,"d":8.5,"e":6.4},
{"t":"2024-12-26","a":2.0,"b":0.5,"c":0.8,"d":2.6,"e":2.5},
{"t":"2025-01-01","a":2.2,"b":1.6,"c":2.4,"d":4.6,"e":6.4},
{"t":"2025-01-06","a":6.3,"b":0.4,"c":0.6,"d":2.4,"e":2.7},
{"t":"2025-01-11","a":1.8,"b":1.8,"c":2.8,"d":4.2,"e":4.6},
{"t":"2025-01-16","a":4.6,"b":0.6,"c":1.0,"d":2.3,"e":2.5},
{"t":"2025-01-21","a":2.6,"b":1.2,"c":3.1,"d":4.0,"e":5.5},
{"t":"2025-01-26","a":5.8,"b":0.7,"c":0.8,"d":2.6,"e":2.3},
{"t":"2025-02-01","a":1.7,"b":1.9,"c":2.8,"d":3.7,"e":4.8},
{"t":"2025-02-06","a":4.7,"b":0.8,"c":0.9,"d":2.1,"e":2.4},
{"t":"2025-02-11","a":2.5,"b":1.5,"c":2.6,"d":4.2,"e":5.0},
{"t":"2025-02-16","a":6.7,"b":0.7,"c":1.0,"d":1.9,"e":2.2},
{"t":"2025-02-21","a":1.6,"b":2.3,"c":2.4,"d":3.5,"e":4.3},
{"t":"2025-02-26","a":4.4,"b":1.0,"c":0.7,"d":2.2,"e":2.1},
{"t":"2025-03-01","a":2.1,"b":1.0,"c":2.1,"d":3.4,"e":3.8},
{"t":"2025-03-06","a":5.0,"b":3.1,"c":3.9,"d":1.8,"e":2.0},
{"t":"2025-03-11","a":1.4,"b":0.8,"c":2.3,"d":3.0,"e":4.3},
{"t":"2025-03-16","a":4.2,"b":2.6,"c":1.0,"d":1.7,"e":1.8},
{"t":"2025-03-21","a":1.9,"b":1.1,"c":1.8,"d":3.3,"e":3.5},
{"t":"2025-03-26","a":7.4,"b":1.9,"c":0.6,"d":1.5,"e":2.0},
{"t":"2025-04-01","a":1.2,"b":3.1,"c":1.7,"d":2.5,"e":1.7},
{"t":"2025-04-06","a":4.4,"b":0.7,"c":0.6,"d":6.5,"e":5.5},
{"t":"2025-04-11","a":2.0,"b":1.5,"c":2.2,"d":2.7,"e":3.0},
{"t":"2025-04-16","a":3.5,"b":0.8,"c":0.8,"d":1.4,"e":1.6},
{"t":"2025-04-21","a":1.1,"b":1.9,"c":1.9,"d":2.5,"e":2.6},
{"t":"2025-04-26","a":3.6,"b":0.9,"c":0.7,"d":1.6,"e":1.4},
{"t":"2025-05-01","a":1.5,"b":1.3,"c":1.6,"d":2.6,"e":2.7},
{"t":"2025-05-06","a":3.9,"b":0.7,"c":0.5,"d":1.3,"e":1.3},
{"t":"2025-05-11","a":0.9,"b":1.6,"c":1.3,"d":2.3,"e":2.4},
{"t":"2025-05-16","a":3.3,"b":0.8,"c":0.7,"d":1.5,"e":1.5},
{"t":"2025-05-21","a":1.3,"b":1.4,"c":1.5,"d":2.0,"e":2.2},
{"t":"2025-05-26","a":3.0,"b":0.7,"c":0.6,"d":1.2,"e":1.2},
{"t":"2025-06-01","a":0.8,"b":1.2,"c":1.2,"d":2.4,"e":2.5},
{"t":"2025-06-06","a":5.1,"b":0.6,"c":3.8,"d":1.3,"e":1.2},
{"t":"2025-06-11","a":1.2,"b":1.0,"c":1.4,"d":2.5,"e":2.6},
{"t":"2025-06-16","a":2.6,"b":0.7,"c":0.6,"d":1.2,"e":1.3},
{"t":"2025-06-21","a":0.6,"b":1.3,"c":1.1,"d":2.2,"e":2.0},
{"t":"2025-06-26","a":2.4,"b":0.6,"c":0.4,"d":1.4,"e":1.1},
{"t":"2025-07-01","a":0.9,"b":1.0,"c":1.0,"d":2.3,"e":2.2},
{"t":"2025-07-06","a":2.3,"b":0.6,"c":0.6,"d":1.2,"e":1.1},
{"t":"2025-07-11","a":0.5,"b":1.3,"c":1.3,"d":2.0,"e":2.4},
{"t":"2025-07-16","a":2.9,"b":0.7,"c":0.5,"d":1.3,"e":1.3},
{"t":"2025-07-21","a":0.8,"b":1.1,"c":1.2,"d":2.2,"e":1.9},
{"t":"2025-07-26","a":2.1,"b":0.6,"c":3.0,"d":1.0,"e":1.0},
{"t":"2025-08-01","a":0.6,"b":1.2,"c":1.0,"d":2.1,"e":2.1},
{"t":"2025-08-06","a":2.7,"b":0.5,"c":0.5,"d":1.3,"e":0.8},
{"t":"2025-08-11","a":1.2,"b":1.1,"c":1.8,"d":2.5,"e":2.3},
{"t":"2025-08-16","a":2.2,"b":0.6,"c":0.7,"d":1.1,"e":1.2},
{"t":"2025-08-21","a":0.4,"b":1.0,"c":5.2,"d":1.8,"e":2.0},
{"t":"2025-08-26","a":3.1,"b":0.5,"c":0.8,"d":1.2,"e":1.1},
{"t":"2025-09-01","a":1.0,"b":1.7,"c":2.6,"d":5.2,"e":2.9},
{"t":"2025-09-06","a":4.4,"b":0.6,"c":0.9,"d":1.4,"e":1.3},
{"t":"2025-09-11","a":1.3,"b":1.0,"c":4.0,"d":2.3,"e":2.5},
{"t":"2025-09-16","a":3.5,"b":0.7,"c":1.1,"d":1.3,"e":1.4},
{"t":"2025-09-21","a":0.9,"b":1.6,"c":2.2,"d":2.1,"e":3.0},
{"t":"2025-09-26","a":4.7,"b":0.8,"c":0.6,"d":1.5,"e":1.6},
{"t":"2025-10-01","a":1.2,"b":1.3,"c":4.7,"d":3.0,"e":3.1},
{"t":"2025-10-06","a":4.5,"b":2.0,"c":0.8,"d":1.6,"e":1.8},
{"t":"2025-10-11","a":2.1,"b":0.7,"c":4.6,"d":2.8,"e":2.9},
{"t":"2025-10-16","a":4.4,"b":1.2,"c":1.0,"d":1.4,"e":1.5},
{"t":"2025-10-21","a":1.0,"b":0.6,"c":3.0,"d":3.0,"e":3.0},
{"t":"2025-10-26","a":6.5,"b":1.4,"c":5.7,"d":1.7,"e":2.2},
{"t":"2025-10-30","a":1.0,"b":1.3,"c":1.5,"d":1.5,"e":1.6}
]},
"vconcat":[
{"width":2506,"height":432,"mark":{"type":"line","clip":true,"invalid":"filter"},
 "encoding":{
  "x":{"field":"t","type":"temporal","scale":{"type":"utc","domain":[{"year":2020,"month":7,"date":20,"utc":true},{"year":2026,"month":1,"date":2,"utc":true}]},
   "axis":{"values":[{"year":2021,"month":1,"date":1,"utc":true},{"year":2022,"month":1,"date":1,"utc":true},{"year":2023,"month":1,"date":1,"utc":true},{"year":2024,"month":1,"date":1,"utc":true},{"year":2025,"month":1,"date":1,"utc":true}],"labels":false,"title":null}},
  "y":{"field":"a","type":"quantitative","scale":{"domain":[0,9]},"axis":{"values":[0,3,6,9],"title":"SWH (m)"}},
  "strokeWidth":{"value":4},
  "color":{"datum":"46244","type":"nominal","scale":{"range":["#ff0000"]},"legend":{"title":null,"orient":"none","legendX":20,"legendY":-13}}
 }},
{"width":2506,"height":432,"mark":{"type":"line","clip":true},
 "encoding":{
  "x":{"field":"t","type":"temporal","scale":{"type":"utc","domain":[{"year":2020,"month":7,"date":20,"utc":true},{"year":2026,"month":1,"date":2,"utc":true}]},
   "axis":{"values":[{"year":2021,"month":1,"date":1,"utc":true},{"year":2022,"month":1,"date":1,"utc":true},{"year":2023,"month":1,"date":1,"utc":true},{"year":2024,"month":1,"date":1,"utc":true},{"year":2025,"month":1,"date":1,"utc":true}],"labels":false,"title":null}},
  "y":{"field":"b","type":"quantitative","scale":{"domain":[0,9]},"axis":{"values":[0,3,6,9],"title":"SWH (m)"}},
  "strokeWidth":{"value":4},
  "color":{"datum":"46253","type":"nominal","scale":{"range":["#0000f0"]},"legend":{"title":null,"orient":"none","legendX":20,"legendY":-13}}
 }},
{"width":2506,"height":432,"mark":{"type":"line","clip":true},
 "encoding":{
  "x":{"field":"t","type":"temporal","scale":{"type":"utc","domain":[{"year":2020,"month":7,"date":20,"utc":true},{"year":2026,"month":1,"date":2,"utc":true}]},
   "axis":{"values":[{"year":2021,"month":1,"date":1,"utc":true},{"year":2022,"month":1,"date":1,"utc":true},{"year":2023,"month":1,"date":1,"utc":true},{"year":2024,"month":1,"date":1,"utc":true},{"year":2025,"month":1,"date":1,"utc":true}],"labels":false,"title":null}},
  "y":{"field":"c","type":"quantitative","scale":{"domain":[0,9]},"axis":{"values":[0,3,6,9],"title":"SWH (m)"}},
  "strokeWidth":{"value":4},
  "color":{"datum":"44086","type":"nominal","scale":{"range":["#14ec14"]},"legend":{"title":null,"orient":"none","legendX":20,"legendY":-13}}
 }},
{"width":2506,"height":432,"mark":{"type":"line","clip":true},
 "encoding":{
  "x":{"field":"t","type":"temporal","scale":{"type":"utc","domain":[{"year":2020,"month":7,"date":20,"utc":true},{"year":2026,"month":1,"date":2,"utc":true}]},
   "axis":{"values":[{"year":2021,"month":1,"date":1,"utc":true},{"year":2022,"month":1,"date":1,"utc":true},{"year":2023,"month":1,"date":1,"utc":true},{"year":2024,"month":1,"date":1,"utc":true},{"year":2025,"month":1,"date":1,"utc":true}],"labels":false,"title":null}},
  "y":{"field":"d","type":"quantitative","scale":{"domain":[0,9]},"axis":{"values":[0,3,6,9],"title":"SWH (m)"}},
  "strokeWidth":{"value":4},
  "color":{"datum":"51000","type":"nominal","scale":{"range":["#7300dc"]},"legend":{"title":null,"orient":"none","legendX":20,"legendY":-13}}
 }},
{"width":2506,"height":432,"mark":{"type":"line","clip":true},
 "encoding":{
  "x":{"field":"t","type":"temporal","scale":{"type":"utc","domain":[{"year":2020,"month":7,"date":20,"utc":true},{"year":2026,"month":1,"date":2,"utc":true}]},
   "axis":{"values":[{"year":2021,"month":1,"date":1,"utc":true},{"year":2022,"month":1,"date":1,"utc":true},{"year":2023,"month":1,"date":1,"utc":true},{"year":2024,"month":1,"date":1,"utc":true},{"year":2025,"month":1,"date":1,"utc":true}],"title":"Date (year)","titleX":1156,"titleAlign":"center"}},
  "y":{"field":"e","type":"quantitative","scale":{"domain":[0,9]},"axis":{"values":[0,3,6,9],"title":"SWH (m)"}},
  "strokeWidth":{"value":4},
  "color":{"datum":"51101","type":"nominal","scale":{"range":["#ff8205"]},"legend":{"title":null,"orient":"none","legendX":20,"legendY":-13}}
 }}
]
}
